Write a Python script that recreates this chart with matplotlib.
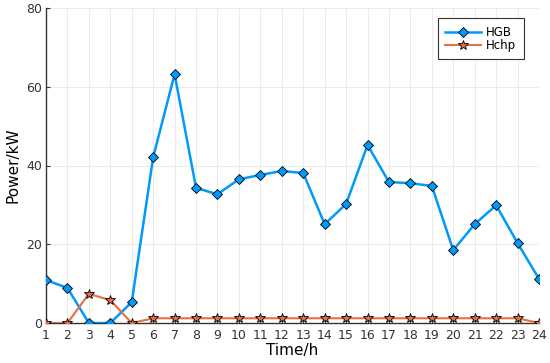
import matplotlib
matplotlib.use("Agg")
import matplotlib.pyplot as plt

hours = list(range(1, 25))
hgb = [10.9, 8.9, 0, 0, 5.3, 42.1, 63.2, 34.3, 32.7, 36.5, 37.6, 38.6, 38.1, 25.1, 30.2,
       45.2, 35.8, 35.5, 34.8, 18.5, 25.1, 29.9, 20.3, 11.2]
hchp = [0, 0, 7.4, 5.8, 0, 1.2, 1.2, 1.2, 1.2, 1.2, 1.2, 1.2, 1.2, 1.2, 1.2,
        1.2, 1.2, 1.2, 1.2, 1.2, 1.2, 1.2, 1.2, 0]
yticks = [0, 20, 40, 60, 80]

plt.rcParams['font.family'] = ['DejaVu Sans']
fig = plt.figure(figsize=(5.5, 3.63), dpi=100)
ax = fig.add_axes([46/550, 1 - 323/363, (539-46)/550, (323-8)/363])

ax.plot(hours, hgb, color='#009AFA', lw=1.8, marker='D', ms=5.3,
        markeredgecolor='black', markeredgewidth=0.6, label='HGB', zorder=3)
ax.plot(hours, hchp, color='#E36F47', lw=1.5, marker='*', ms=7,
        markeredgecolor='black', markeredgewidth=0.6, label='Hchp', zorder=3)

ax.set_xlim(1, 24)
ax.set_ylim(0, 80)
ax.set_xticks(hours)
ax.set_yticks(yticks)
ax.grid(True, color='#ebebeb', lw=0.7)
ax.set_axisbelow(True)
for s in ['top', 'right']:
    ax.spines[s].set_visible(False)
for s in ['left', 'bottom']:
    ax.spines[s].set_color('#333333')
    ax.spines[s].set_linewidth(1.0)
ax.tick_params(direction='in', length=3, labelsize=9, colors='#333333', pad=3)
ax.tick_params(axis='x', pad=4)
ax.set_xlabel('Time/h', fontsize=11, labelpad=1)
ax.set_ylabel('Power/kW', fontsize=11, labelpad=4)

leg = ax.legend(loc='upper right', bbox_to_anchor=((524-46)/493, (323-18)/315),
                borderaxespad=0, fontsize=8.5,
                fancybox=False, framealpha=1, edgecolor='#333333',
                handlelength=3.0, borderpad=0.65, labelspacing=0.0, handletextpad=0.45)
leg.get_frame().set_linewidth(0.8)

fig.savefig('out.png', dpi=100)
